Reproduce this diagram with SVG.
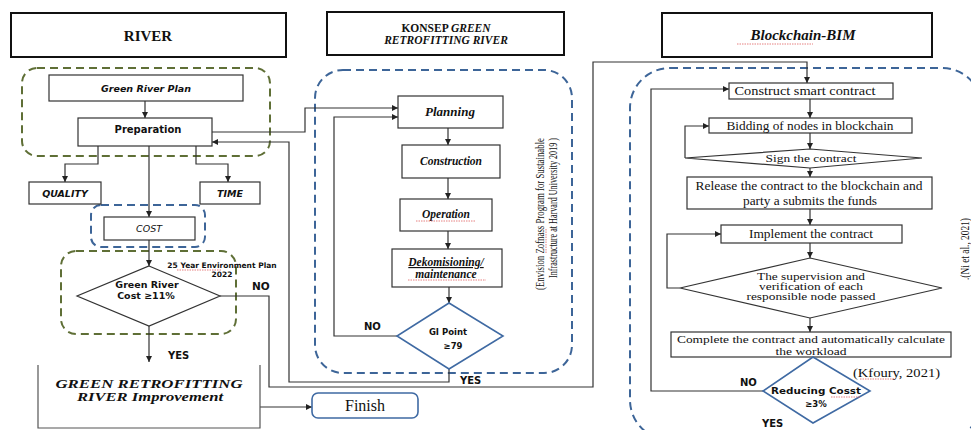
<svg xmlns="http://www.w3.org/2000/svg" width="971" height="430" viewBox="0 0 971 430">
<defs>
<marker id="ah" viewBox="0 0 8 8" refX="8" refY="4" markerWidth="6" markerHeight="6" markerUnits="userSpaceOnUse" orient="auto"><path d="M0,0 L8,4 L0,8 z" fill="#222"/></marker>
<style>
.hdr{fill:#fff;stroke:#111;stroke-width:2}
.box{fill:#fff;stroke:#333;stroke-width:1.2}
.gd{fill:none;stroke:#5f6f36;stroke-width:2;stroke-dasharray:8 5}
.bd{fill:none;stroke:#3d6598;stroke-width:2;stroke-dasharray:8 5}
.con{fill:none;stroke:#333;stroke-width:1.2}
.arr{marker-end:url(#ah)}
.dm{fill:#fff;stroke:#333;stroke-width:1.2}
.dmb{fill:#fff;stroke:#3f6aa3;stroke-width:1.6}
.sb{font-family:"DejaVu Sans","Liberation Sans",sans-serif;font-weight:bold;fill:#111}
.sbi{font-family:"DejaVu Sans","Liberation Sans",sans-serif;font-weight:bold;font-style:italic;fill:#111}
.si{font-family:"DejaVu Sans","Liberation Sans",sans-serif;font-style:italic;fill:#111}
.sr{font-family:"Liberation Serif","Times New Roman",serif;fill:#111}
.srb{font-family:"Liberation Serif","Times New Roman",serif;font-weight:bold;fill:#111}
.srbi{font-family:"Liberation Serif","Times New Roman",serif;font-weight:bold;font-style:italic;fill:#111}
.sq{fill:none;stroke:#e06060;stroke-width:0.8;stroke-dasharray:1.5 1}
</style>
</defs>
<rect width="971" height="430" fill="#fff"/>

<!-- dashed regions -->
<g id="regions">
<rect class="gd" x="22" y="68" width="248" height="88" rx="15"/>
<rect class="bd" x="91" y="205" width="114" height="42" rx="10"/>
<rect class="gd" x="61" y="251" width="175" height="83" rx="15"/>
<rect class="bd" x="315" y="70" width="257" height="303" rx="28"/>
<rect class="bd" x="630" y="68" width="352" height="372" rx="40"/>
</g>

<!-- connectors -->
<g id="connectors">
<path class="con arr" d="M145,101 V118"/>
<path class="con arr" d="M98,146 V164 H65 V182"/>
<path class="con arr" d="M196,146 V164 H228 V182"/>
<path class="con arr" d="M149,146 V217"/>
<path class="con arr" d="M149,240 V266"/>
<path class="con arr" d="M149,326 V362"/>
<path class="con arr" d="M260,407 H312"/>
<path class="con arr" d="M220,296 H269 V387 H593 V62 H807 V83"/>
<path class="con arr" d="M212,132 H305 V108 H398"/>
<path class="con arr" d="M449,369 V382 H289 V142 H212"/>
<path class="con arr" d="M448,128 V145"/>
<path class="con arr" d="M448,178 V199"/>
<path class="con arr" d="M448,231 V249"/>
<path class="con arr" d="M449,287 V303"/>
<path class="con arr" d="M397,336 H334 V117 H398"/>
<path class="con arr" d="M810,99 V118"/>
<path class="con arr" d="M810,133 V149"/>
<path class="con arr" d="M810,168 V177"/>
<path class="con arr" d="M810,209 V225"/>
<path class="con arr" d="M810,243 V258"/>
<path class="con arr" d="M810,318 V332"/>
<path class="con arr" d="M812,351 V358"/>
<path class="con arr" d="M685,158 V126 H709"/>
<path class="con arr" d="M680,288 H667 V234 H721"/>
<path class="con arr" d="M763,391 H651 V89 H729"/>
</g>

<!-- RIVER column -->
<g id="river-header"><rect class="hdr" x="11" y="13" width="275" height="44"/><text class="srb" x="148" y="41" font-size="15" text-anchor="middle">RIVER</text></g>
<g id="green-river-plan"><rect class="box" x="49" y="75" width="194" height="26"/><text class="sbi" x="146" y="92" font-size="9.5" text-anchor="middle">Green River Plan</text></g>
<g id="preparation"><rect class="box" x="78" y="118" width="134" height="28"/><text class="sb" x="148" y="133" font-size="10" text-anchor="middle">Preparation</text></g>
<g id="quality"><rect class="box" x="29" y="182" width="72" height="22"/><text class="sbi" x="65" y="197" font-size="9.5" text-anchor="middle">QUALITY</text></g>
<g id="time"><rect class="box" x="200" y="182" width="60" height="22"/><text class="sbi" x="230" y="197" font-size="9.5" text-anchor="middle">TIME</text></g>
<g id="cost"><rect class="box" x="104" y="217" width="91" height="23"/><text class="si" x="149" y="232" font-size="9.5" text-anchor="middle">COST</text></g>
<g id="green-river-cost">
<polygon class="dm" points="149,266 220,296 149,326 77,296"/>
<text class="sb" x="147" y="288" font-size="9.5" text-anchor="middle">Green River</text>
<text class="sb" x="146" y="299" font-size="9.5" text-anchor="middle">Cost  ≥11%</text>
<text class="sb" x="222" y="268" font-size="7.5" text-anchor="middle">25 Year Environment Plan</text>
<text class="sb" x="222" y="277" font-size="7.5" text-anchor="middle">2022</text>
<path class="sq" d="M177,270 H221"/>
</g>
<g id="green-retrofitting-improvement">
<path d="M38,365 V428 H260 V365" fill="#fff" stroke="#555" stroke-width="1.2"/>
<text class="srbi" x="149" y="388" font-size="12" text-anchor="middle" textLength="187" lengthAdjust="spacingAndGlyphs">GREEN  RETROFITTING</text>
<text class="srbi" x="150" y="401" font-size="12" text-anchor="middle" textLength="146" lengthAdjust="spacingAndGlyphs">RIVER Improvement</text>
</g>
<g id="finish"><rect x="312" y="393" width="106" height="25" rx="6" fill="#fff" stroke="#3f6aa3" stroke-width="1.6"/><text class="sr" x="365" y="411" font-size="16" text-anchor="middle">Finish</text></g>

<!-- KONSEP column -->
<g id="konsep-header"><rect class="hdr" x="327" y="12" width="237" height="43"/>
<text class="srb" x="446" y="32" font-size="11.5" text-anchor="middle">KONSEP <tspan font-style="italic">GREEN</tspan></text>
<text class="srbi" x="446" y="44" font-size="11.5" text-anchor="middle">RETROFITTING RIVER</text></g>
<g id="planning"><rect class="box" x="398" y="96" width="105" height="32"/><text class="srbi" x="450" y="116" font-size="13" text-anchor="middle">Planning</text></g>
<g id="construction"><rect class="box" x="402" y="145" width="98" height="33"/><text class="srbi" x="451" y="165" font-size="11.5" text-anchor="middle">Construction</text></g>
<g id="operation"><rect class="box" x="400" y="199" width="92" height="32"/><text class="srbi" x="446" y="218" font-size="11.5" text-anchor="middle">Operation</text><path class="sq" d="M416,221 H476"/></g>
<g id="dekomisioning"><rect class="box" x="392" y="249" width="110" height="38"/>
<text class="srbi" x="446" y="266" font-size="11.5" text-anchor="middle" text-decoration="underline">Dekomisioning/</text>
<text class="srbi" x="446" y="278" font-size="11.5" text-anchor="middle">maintenance</text>
<path class="sq" d="M408,280 H486"/></g>
<g id="gi-point">
<polygon class="dmb" points="449,303 503,336 449,369 397,336"/>
<text class="sb" x="448" y="335" font-size="8.5" text-anchor="middle">GI Point</text>
<text class="sb" x="453" y="349" font-size="8.5" text-anchor="middle">≥79</text>
</g>
<g id="envision-note">
<text class="sr" font-size="13.5" transform="translate(544,290) rotate(-90)" textLength="152" lengthAdjust="spacingAndGlyphs">(Envision  Zofnass Program for Sustainable</text>
<text class="sr" font-size="13.5" transform="translate(557,278) rotate(-90)" textLength="140" lengthAdjust="spacingAndGlyphs">Infrastructure at Harvard University 2019 )</text>
<path class="sq" d="M546,253 V228"/>
</g>

<!-- Blockchain column -->
<g id="blockchain-header"><rect class="hdr" x="662" y="13" width="270" height="44"/><text class="srbi" x="803" y="40" font-size="15" text-anchor="middle">Blockchain-BIM</text><path class="sq" d="M737,44 H813"/></g>
<g id="construct"><rect class="box" x="729" y="83" width="164" height="16"/><text class="sr" x="805" y="95" font-size="11.5" text-anchor="middle" textLength="141" lengthAdjust="spacingAndGlyphs">Construct smart contract</text></g>
<g id="bidding"><rect class="box" x="709" y="118" width="203" height="15"/><text class="sr" x="810" y="129.5" font-size="11.5" text-anchor="middle" textLength="167" lengthAdjust="spacingAndGlyphs">Bidding of nodes in blockchain</text></g>
<g id="sign"><polygon class="dm" points="810,149 922,158 810,168 685,158"/><text class="sr" x="811" y="162" font-size="11" text-anchor="middle" textLength="91" lengthAdjust="spacingAndGlyphs">Sign the contract</text></g>
<g id="release"><rect class="box" x="687" y="177" width="245" height="32"/>
<text class="sr" x="809" y="190" font-size="11.5" text-anchor="middle" textLength="227" lengthAdjust="spacingAndGlyphs">Release the contract to the blockchain and</text>
<text class="sr" x="810" y="205" font-size="11.5" text-anchor="middle" textLength="134" lengthAdjust="spacingAndGlyphs">party a submits the funds</text></g>
<g id="implement"><rect class="box" x="721" y="225" width="181" height="18"/><text class="sr" x="811" y="238" font-size="11.5" text-anchor="middle" textLength="124" lengthAdjust="spacingAndGlyphs">Implement the contract</text></g>
<g id="supervision"><polygon class="dm" points="810,258 942,288 810,318 680,288"/>
<text class="sr" x="811" y="280" font-size="10" text-anchor="middle" textLength="108" lengthAdjust="spacingAndGlyphs">The supervision and</text>
<text class="sr" x="811" y="290" font-size="10" text-anchor="middle" textLength="104" lengthAdjust="spacingAndGlyphs">verification of each</text>
<text class="sr" x="811" y="300" font-size="10" text-anchor="middle" textLength="129" lengthAdjust="spacingAndGlyphs">responsible node passed</text></g>
<g id="complete"><rect class="box" x="671" y="332" width="280" height="25"/>
<text class="sr" x="811" y="343" font-size="11" text-anchor="middle" textLength="268" lengthAdjust="spacingAndGlyphs">Complete the contract and automatically calculate</text>
<text class="sr" x="811" y="355" font-size="11" text-anchor="middle" textLength="71" lengthAdjust="spacingAndGlyphs">the workload</text></g>
<g id="reducing-cost"><polygon class="dmb" points="813,357 870,391 813,423 763,391"/>
<text class="sb" x="816" y="394" font-size="9" text-anchor="middle" textLength="90" lengthAdjust="spacingAndGlyphs">Reducing Cosst</text>
<text class="sb" x="816" y="407" font-size="8.5" text-anchor="middle">≥3%</text>
<path class="sq" d="M831,397 H861"/></g>
<g id="kfoury"><text class="sr" x="853" y="377" font-size="12" textLength="87" lengthAdjust="spacingAndGlyphs">(Kfoury, 2021)</text><path class="sq" d="M860,379 H895"/></g>
<g id="ni-note"><text class="sr" font-size="12.5" transform="translate(969,280) rotate(-90)" textLength="62" lengthAdjust="spacingAndGlyphs">.(Ni et al., 2021)</text></g>

<!-- labels -->
<g id="labels">
<text class="sb" x="252" y="290" font-size="10.5">NO</text>
<text class="sb" x="168" y="359" font-size="10">YES</text>
<text class="sb" x="364" y="330" font-size="10">NO</text>
<text class="sb" x="460" y="384" font-size="10">YES</text>
<text class="sb" x="740" y="386" font-size="10">NO</text>
<text class="sb" x="762" y="427" font-size="10">YES</text>
</g>
</svg>
